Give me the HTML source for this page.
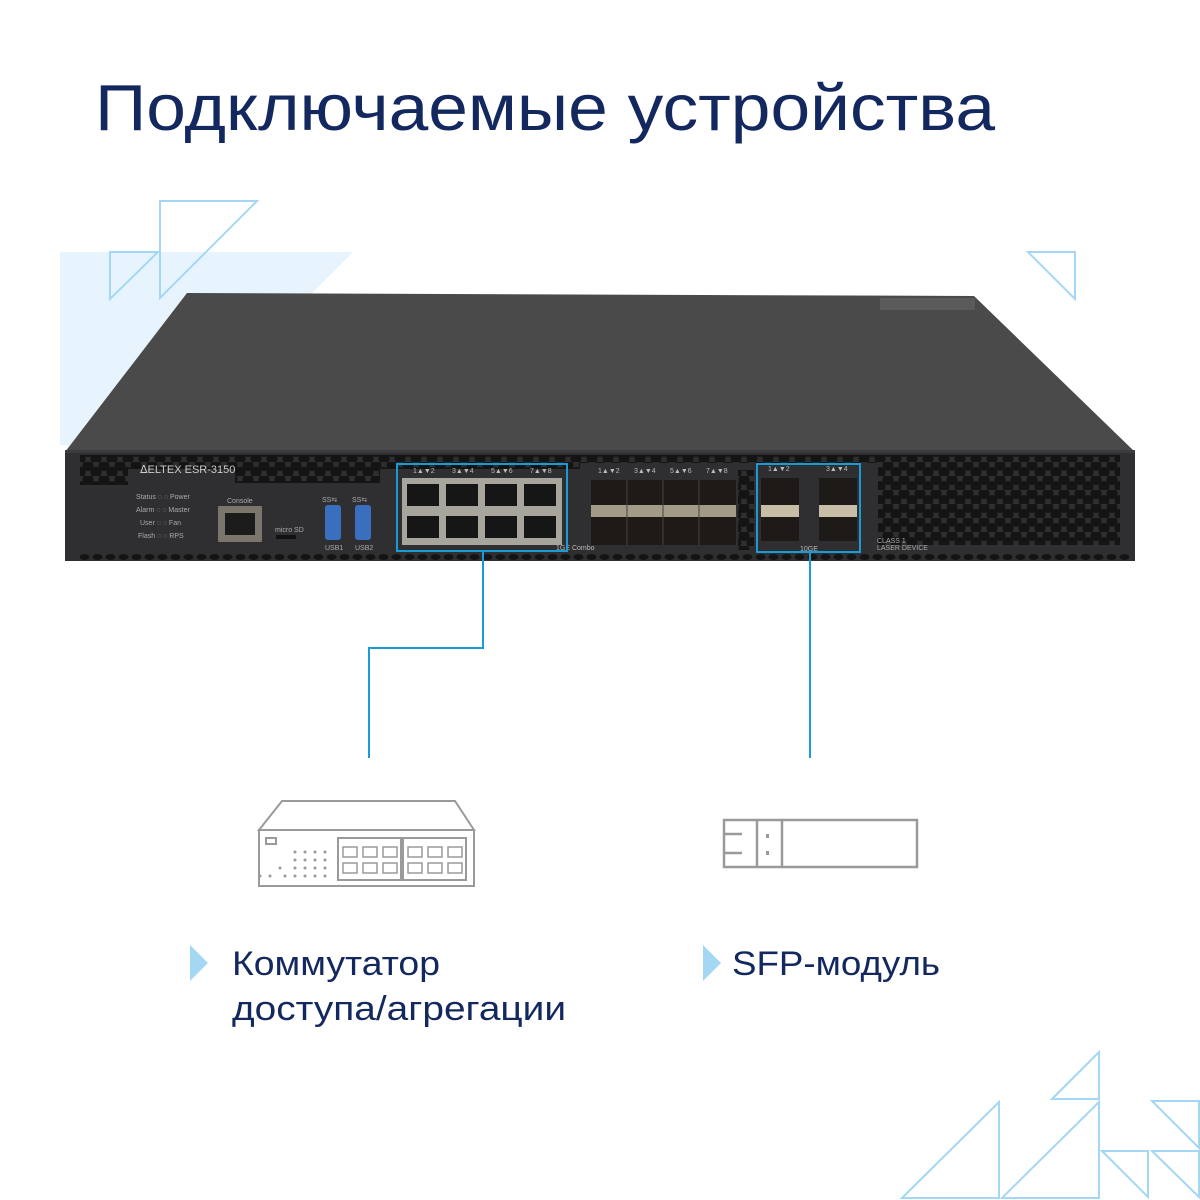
<!DOCTYPE html>
<html><head><meta charset="utf-8"><style>
html,body{margin:0;padding:0;background:#fff;}
svg{display:block}
text{font-family:"Liberation Sans",sans-serif}
</style></head><body>
<svg width="1200" height="1200" viewBox="0 0 1200 1200" xmlns="http://www.w3.org/2000/svg">
<defs>
<pattern id="hex" x="0" y="0" width="16" height="14" patternUnits="userSpaceOnUse">
<circle cx="8" cy="3.5" r="5.5" fill="#141414"/><circle cx="0" cy="10.5" r="5.5" fill="#141414"/><circle cx="16" cy="10.5" r="5.5" fill="#141414"/>
</pattern>
<pattern id="row" x="0" y="0" width="13" height="8" patternUnits="userSpaceOnUse">
<ellipse cx="6.5" cy="5" rx="5" ry="3" fill="#141414"/>
</pattern>
</defs>
<!-- title -->
<text x="95" y="130" font-size="65" fill="#13285e" textLength="900" lengthAdjust="spacingAndGlyphs">Подключаемые устройства</text>
<!-- bg decorations -->
<polygon points="60,252 353,252 160,445 60,445" fill="#e8f4fd"/>
<g fill="none" stroke="#a3d7f3" stroke-width="2">
<polygon points="160,201 257,201 160,298"/>
<polygon points="110,252 158,252 110,299"/>
<polygon points="1028,252 1075,252 1075,299"/>
<polygon points="902,1198 999,1102 999,1198"/>
<polygon points="1002,1198 1099,1102 1099,1198"/>
<polygon points="1052,1099 1099,1052 1099,1099"/>
<polygon points="1102,1151 1148,1151 1148,1197"/>
<polygon points="1152,1151 1199,1151 1199,1197"/>
<polygon points="1152,1101 1199,1101 1199,1148"/>
</g>
<!-- device top -->
<polygon points="187,293 974,296 1135,452 65,452" fill="#4a4a4b"/>
<rect x="880" y="298" width="95" height="12" fill="#5a5a5a"/>
<!-- front -->
<rect x="65" y="450" width="1070" height="111" fill="#2f2f31"/>
<rect x="65" y="450" width="1070" height="3" fill="#3c3c3e"/>
<rect x="80" y="455" width="500" height="14" fill="url(#hex)"/>
<rect x="80" y="455" width="48" height="30" fill="url(#hex)"/>
<rect x="235" y="465" width="145" height="18" fill="url(#hex)"/>
<rect x="570" y="455" width="310" height="8" fill="url(#hex)"/>
<rect x="738" y="470" width="16" height="80" fill="url(#hex)"/>
<rect x="878" y="455" width="242" height="90" fill="url(#hex)"/>
<rect x="80" y="552" width="1050" height="8" fill="url(#row)"/>
<text x="140" y="473" font-size="11" fill="#ccc">ᐃELTEX  ESR-3150</text>
<g font-size="7" fill="#aaa">
<text x="136" y="499">Status ◌ ◌ Power</text>
<text x="136" y="512">Alarm ◌ ◌ Master</text>
<text x="140" y="525">User ◌ ◌ Fan</text>
<text x="138" y="538">Flash ◌ ◌ RPS</text>
<text x="227" y="503">Console</text>
<text x="275" y="532">micro SD</text>
<text x="325" y="550">USB1</text><text x="355" y="550">USB2</text>
<text x="322" y="502">SS⇆</text><text x="352" y="502">SS⇆</text>
<text x="877" y="543">CLASS 1</text><text x="877" y="550">LASER DEVICE</text>
</g>
<rect x="218" y="506" width="44" height="36" fill="#7a766e"/><rect x="225" y="513" width="30" height="22" fill="#1c1c1c"/>
<rect x="276" y="535" width="20" height="4" fill="#111"/>
<rect x="325" y="505" width="16" height="35" rx="3" fill="#3a6fc0"/>
<rect x="355" y="505" width="16" height="35" rx="3" fill="#3a6fc0"/>
<!-- RJ45 block -->
<rect x="402" y="478" width="160" height="67" fill="#a8a59c"/>
<g fill="#161616">
<rect x="407" y="484" width="32" height="22"/><rect x="446" y="484" width="32" height="22"/><rect x="485" y="484" width="32" height="22"/><rect x="524" y="484" width="32" height="22"/>
<rect x="407" y="516" width="32" height="22"/><rect x="446" y="516" width="32" height="22"/><rect x="485" y="516" width="32" height="22"/><rect x="524" y="516" width="32" height="22"/>
</g>
<g font-size="7" fill="#bbb"><text x="413" y="473">1▲▼2</text><text x="452" y="473">3▲▼4</text><text x="491" y="473">5▲▼6</text><text x="530" y="473">7▲▼8</text>
<text x="598" y="473">1▲▼2</text><text x="634" y="473">3▲▼4</text><text x="670" y="473">5▲▼6</text><text x="706" y="473">7▲▼8</text>
<text x="768" y="471">1▲▼2</text><text x="826" y="471">3▲▼4</text>
<text x="556" y="550">1GE Combo</text><text x="800" y="551">10GE</text></g>
<!-- SFP combo -->
<rect x="591" y="480" width="145" height="65" fill="#1e1a18"/>
<rect x="591" y="505" width="145" height="12" fill="#a39a88"/>
<g stroke="#444" stroke-width="1"><line x1="627" y1="480" x2="627" y2="545"/><line x1="663" y1="480" x2="663" y2="545"/><line x1="699" y1="480" x2="699" y2="545"/></g>
<!-- 10GE -->
<rect x="761" y="478" width="38" height="63" fill="#1e1a18"/><rect x="761" y="505" width="38" height="12" fill="#c8bea8"/>
<rect x="819" y="478" width="38" height="63" fill="#1e1a18"/><rect x="819" y="505" width="38" height="12" fill="#c8bea8"/>
<!-- highlights -->
<g fill="none" stroke="#1a9ad6" stroke-width="2">
<rect x="397" y="464" width="170" height="87"/>
<rect x="757" y="464" width="103" height="88"/>
<polyline points="483,551 483,648 369,648 369,758"/>
<line x1="810" y1="552" x2="810" y2="758"/>
</g>
<!-- switch icon -->
<g fill="none" stroke="#9a9a9a" stroke-width="2">
<polygon points="282,801 455,801 474,830 259,830"/>
<rect x="259" y="830" width="215" height="56"/>
<rect x="266" y="838" width="10" height="6"/>
<rect x="338" y="838" width="63" height="42"/><rect x="403" y="838" width="63" height="42"/>
</g>
<g fill="none" stroke="#9a9a9a" stroke-width="1.5">
<path d="M343 857 v-10 h14 v10 z M363 857 v-10 h14 v10 z M383 857 v-10 h14 v10 z M408 857 v-10 h14 v10 z M428 857 v-10 h14 v10 z M448 857 v-10 h14 v10 z"/>
<path d="M343 863 v10 h14 v-10 z M363 863 v10 h14 v-10 z M383 863 v10 h14 v-10 z M408 863 v10 h14 v-10 z M428 863 v10 h14 v-10 z M448 863 v10 h14 v-10 z"/>
</g>
<g fill="#9a9a9a"><circle cx="295" cy="852" r="1.5"/><circle cx="305" cy="852" r="1.5"/><circle cx="315" cy="852" r="1.5"/><circle cx="325" cy="852" r="1.5"/>
<circle cx="295" cy="860" r="1.5"/><circle cx="305" cy="860" r="1.5"/><circle cx="315" cy="860" r="1.5"/><circle cx="325" cy="860" r="1.5"/>
<circle cx="280" cy="868" r="1.5"/><circle cx="295" cy="868" r="1.5"/><circle cx="305" cy="868" r="1.5"/><circle cx="315" cy="868" r="1.5"/><circle cx="325" cy="868" r="1.5"/>
<circle cx="260" cy="876" r="1.5"/><circle cx="270" cy="876" r="1.5"/><circle cx="285" cy="876" r="1.5"/><circle cx="295" cy="876" r="1.5"/><circle cx="305" cy="876" r="1.5"/><circle cx="315" cy="876" r="1.5"/><circle cx="325" cy="876" r="1.5"/></g>
<!-- sfp icon -->
<g fill="none" stroke="#9a9a9a" stroke-width="2.5">
<rect x="724" y="820" width="193" height="47"/>
<line x1="757" y1="820" x2="757" y2="867"/><line x1="782" y1="820" x2="782" y2="867"/>
<line x1="724" y1="834" x2="742" y2="834"/><line x1="724" y1="853" x2="742" y2="853"/>
</g>
<rect x="766" y="834" width="3" height="4" fill="#9a9a9a"/><rect x="766" y="851" width="3" height="4" fill="#9a9a9a"/>
<!-- labels -->
<polygon points="190,945 208,963 190,981" fill="#a3d7f3"/>
<polygon points="703,945 721,963 703,981" fill="#a3d7f3"/>
<g font-size="34" fill="#13285e">
<text x="232" y="975" textLength="208" lengthAdjust="spacingAndGlyphs">Коммутатор</text>
<text x="232" y="1020" textLength="334" lengthAdjust="spacingAndGlyphs">доступа/агрегации</text>
<text x="732" y="975" textLength="208" lengthAdjust="spacingAndGlyphs">SFP-модуль</text>
</g>
</svg>
</body></html>
